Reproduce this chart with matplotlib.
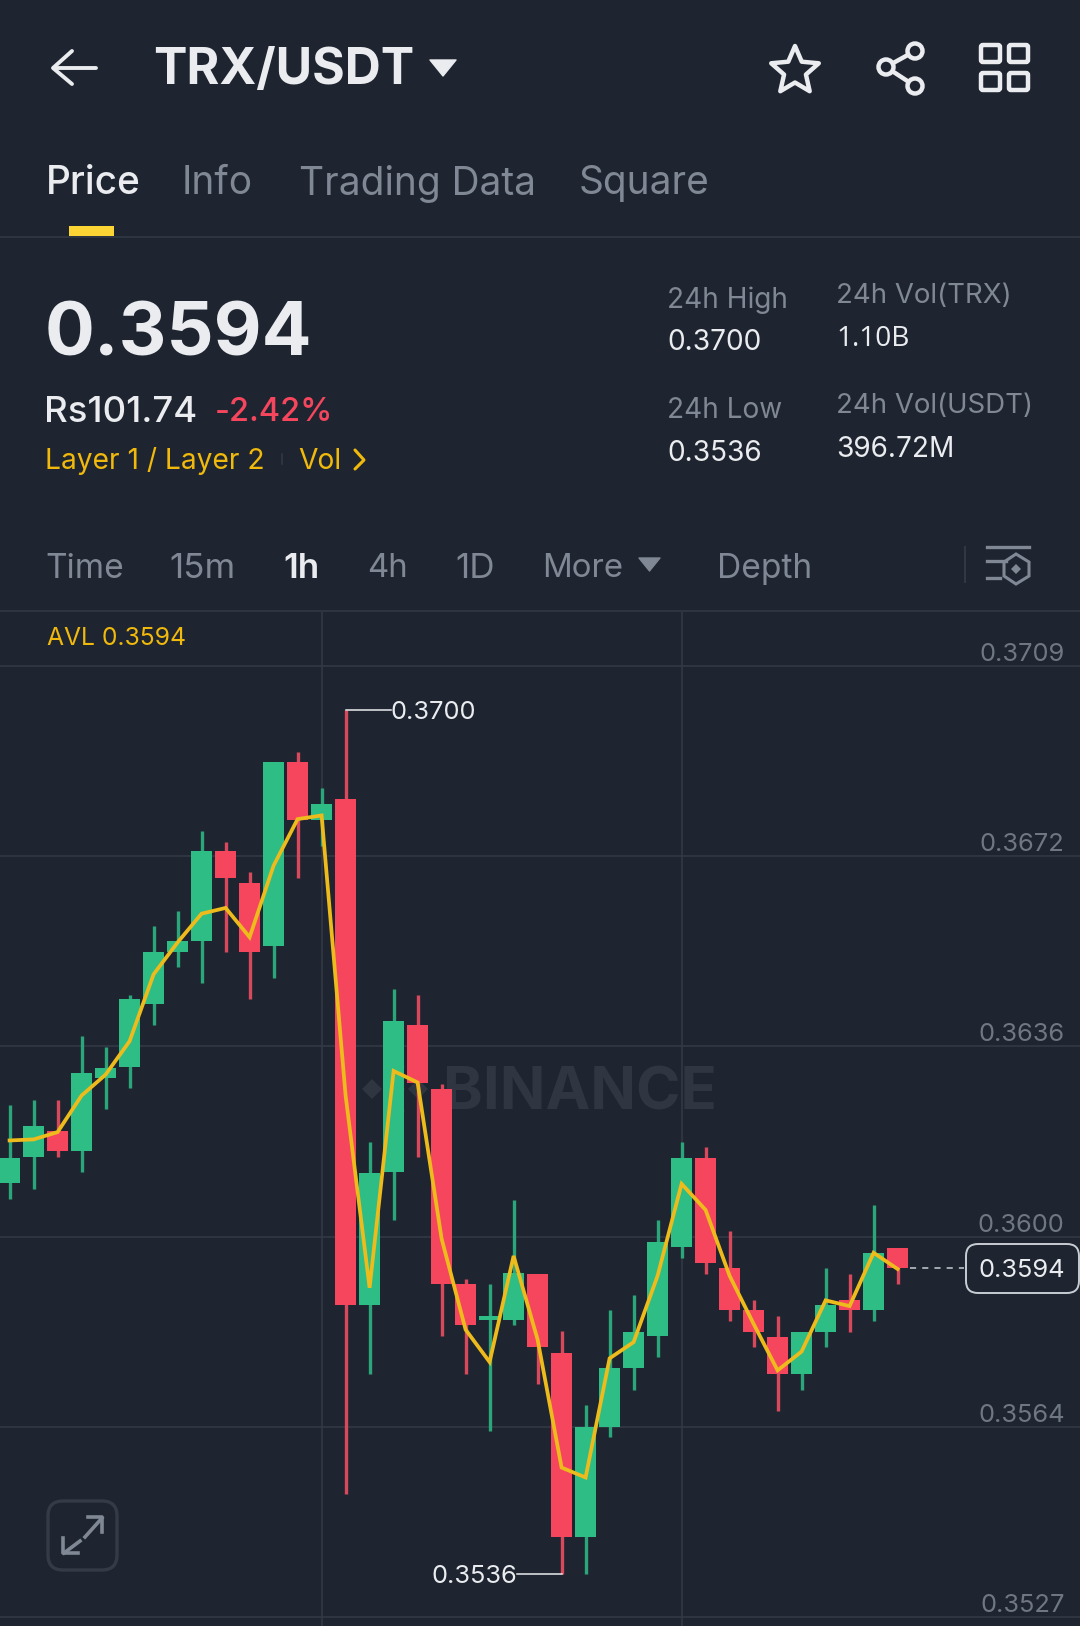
import matplotlib
matplotlib.use("Agg")
import matplotlib.pyplot as plt
import numpy as np
from matplotlib.patches import FancyBboxPatch, Polygon, Circle, Rectangle
from matplotlib.transforms import blended_transform_factory, IdentityTransform

# ---------- data ----------
opens = [.36100,.36150,.36200,.36161,.36301,.36322,.36443,.36543,.36564,.36735,.36674,.36554,.36906,.36796,.36835,.35867,.36121,.36402,.36281,.35907,.35838,.35838,.35927,.35776,.35424,.35634,.35746,.35807,.35978,.36149,.35938,.35857,.35806,.35736,.35816,.35877,.35857,.35977]
closes = [.36149,.36210,.36161,.36311,.36321,.36452,.36542,.36563,.36735,.36685,.36543,.36906,.36796,.36825,.35867,.36120,.36411,.36292,.35908,.35828,.35846,.35928,.35787,.35424,.35634,.35746,.35816,.35988,.36149,.35948,.35857,.35816,.35736,.35816,.35867,.35857,.35967,.35938]
highs = [.36250,.36260,.36260,.36381,.36360,.36461,.36593,.36622,.36775,.36754,.36695,.36906,.36926,.36856,.37005,.36179,.36472,.36461,.36290,.35917,.35907,.36068,.35927,.35817,.35675,.35857,.35887,.36029,.36180,.36170,.36008,.35877,.35847,.35816,.35938,.35927,.36058,.35977]
lows = [.36070,.36090,.36150,.36121,.36242,.36282,.36403,.36513,.36483,.36543,.36453,.36493,.36685,.36746,.35506,.35736,.36029,.36150,.35807,.35736,.35626,.35828,.35715,.35353,.35353,.35614,.35705,.35767,.35958,.35927,.35837,.35787,.35665,.35705,.35787,.35816,.35837,.35907]
avl = [.36182,.36184,.36198,.36268,.36308,.36372,.36500,.36561,.36616,.36627,.36571,.36708,.36797,.36804,.36268,.35900,.36315,.36293,.35994,.35820,.35758,.35961,.35801,.35556,.35537,.35765,.35796,.35923,.36099,.36049,.35923,.35831,.35742,.35778,.35876,.35865,.35967,.35936]
price_ticks = [.3709,.36726,.36362,.35998,.35634,.3527]
price_tick_labels = ["0.3709","0.3672","0.3636","0.3600","0.3564","0.3527"]
time_grid = [13, 28]
last_price = 0.35938
high_idx, low_idx = 14, 23
tabs = ["Price", "Info", "Trading Data", "Square"]

# ---------- style ----------
BG="#1e2530"; GRID="#323945"; GREEN="#2EBD85"; RED="#F6465D"; YEL="#F0B90B"
LINE="#EDBB1C"; GREY="#7f8894"; DIM="#6f7782"; WHITE="#EAECEF"
plt.rcParams['font.family'] = ['Inter', 'DejaVu Sans']
W,H=1080,1626
fig=plt.figure(figsize=(W/100,H/100),dpi=100,facecolor=BG)

ui=fig.add_axes([0,0,1,1],zorder=0); ui.set_xlim(0,W); ui.set_ylim(H,0); ui.axis('off')
def px(n): return n*0.72
def T(x,y,s,size,c,w='normal',ha='left',fam=None):
    ui.text(x,y,s,fontsize=px(size),color=c,fontweight=w,ha=ha,va='center_baseline',
            family=fam if fam else ['Inter','DejaVu Sans'])

# header
T(153,66,"TRX/USDT",50,WHITE,'bold')
ui.add_patch(Polygon([(430,60),(456,60),(443,76)],fc=WHITE,ec=WHITE,lw=1,joinstyle='round'))
ui.plot([54,96],[68,68],color=WHITE,lw=2.8,solid_capstyle='round')
ui.plot([72,53,72],[51,68,84],color=WHITE,lw=2.8,solid_capstyle='round',solid_joinstyle='round')
ang=np.deg2rad(-90+36*np.arange(10))
rad=np.where(np.arange(10)%2==0,25,11.5)
ui.add_patch(Polygon(np.c_[795+rad*np.cos(ang),71+rad*np.sin(ang)],fc='none',ec=WHITE,lw=3.2,joinstyle='round'))
for a,b in [((886,67),(915,51)),((886,67),(915,86))]:
    ui.plot(*zip(a,b),color=WHITE,lw=3.2)
for c in [(886,67),(915,51),(915,86)]:
    ui.add_patch(Circle(c,7.5,fc=BG,ec=WHITE,lw=3.2,zorder=3))
for x in (981,1009):
    for y in (45,73):
        ui.add_patch(FancyBboxPatch((x,y),19,17,boxstyle="round,pad=0,rounding_size=2",fc='none',ec=WHITE,lw=3.2))

# tabs
for s,x,c,w in zip(tabs,[46,182,299,579],[WHITE,GREY,GREY,GREY],['medium','normal','normal','normal']):
    T(x,180,s,38.8,c,w)
ui.add_patch(Rectangle((69,226),45,10,fc="#FCD535",ec='none'))
ui.plot([0,W],[237.5,237.5],color=GRID,lw=1.2)

# price block
T(45,328,"0.3594",74,WHITE,'bold')
T(44,409,"Rs101.74",36.5,WHITE,'medium')
T(215,409,"-2.42%",32.5,RED,'medium')
T(45,458,"Layer 1 / Layer 2",28.2,YEL)
ui.plot([282,282],[454,464],color=GRID,lw=1.2)
T(298,458,"Vol",28.2,YEL)
ui.plot([355,364,355],[450,460,469],color=YEL,lw=2.2,solid_joinstyle='round',solid_capstyle='round')
T(667,297,"24h High",28,GREY); T(667,340,"0.3700",28,WHITE)
T(667,407,"24h Low",28,GREY);  T(667,450,"0.3536",28,WHITE)
T(836,293,"24h Vol(TRX)",27.6,GREY); T(836,336,"1.10B",28,WHITE,fam=['Open Sans','DejaVu Sans'])
T(836,403,"24h Vol(USDT)",27.6,GREY); T(836,446,"396.72M",28,WHITE)

# time bar
for s,x,c,w,sz in [("Time",45,GREY,'normal',33.5),("15m",169,GREY,'normal',35),("1h",283,WHITE,'semibold',35),
                ("4h",367,GREY,'normal',33),("1D",455,GREY,'normal',35),("More",542,GREY,'normal',33),("Depth",717,GREY,'normal',33.5)]:
    T(x,565,s,sz,c,w)
ui.add_patch(Polygon([(639,558),(660,558),(649.5,571)],fc=GREY,ec=GREY,lw=1,joinstyle='round'))
ui.plot([965,965],[547,582],color=GRID,lw=1.4)
ui.plot([987,1029],[547,547],color=GREY,lw=2.4)
ui.plot([987,1006],[561,561],color=GREY,lw=2.4)
ui.plot([987,1000],[578,578],color=GREY,lw=2.4)
ui.add_patch(Polygon([(1016,554),(1029,562),(1029,576),(1016,584),(1004,576),(1004,562)],fc='none',ec=GREY,lw=2.2))
ui.add_patch(Polygon([(1016,564),(1021,569),(1016,574),(1011,569)],fc=GREY,ec='none'))
ui.plot([0,W],[611,611],color=GRID,lw=1.2)

T(47,636,"AVL 0.3594",24.7,YEL)

# watermark
WM="#2f3641"
for cx,cy,r in [(372,1089,10),(418,1089,10),(395,1067,10),(395,1111,10),(395,1089,10)]:
    ui.add_patch(Polygon([(cx-r,cy),(cx,cy-r),(cx+r,cy),(cx,cy+r)],fc=WM,ec='none'))
T(443,1088,"BINANCE",60,WM,'bold')

# expand button
ui.add_patch(FancyBboxPatch((48,1501),69,69,boxstyle="round,pad=0,rounding_size=15",fc='none',ec="#343b47",lw=2.4))
ui.plot([64,80],[1553,1541],color=GREY,lw=2.6); ui.plot([85,102],[1537,1518],color=GREY,lw=2.6)
ui.plot([63,63,78],[1538,1553,1553],color=GREY,lw=2.6); ui.plot([88,102,102],[1517,1517,1532],color=GREY,lw=2.6)

# ---------- chart ----------
top,bot=612,1626
ax=fig.add_axes([0,0,1,(bot-top)/H],zorder=1); ax.patch.set_alpha(0)
pp=(.3709-.3527)/951
ax.set_ylim(.3527-(bot-1617)*pp,.3709+(666-top)*pp)
ax.set_xlim(-9.6/24,(W-9.6)/24)
for s in ax.spines.values(): s.set_visible(False)
ax.yaxis.tick_right()
ax.set_yticks(price_ticks,price_tick_labels)
ax.set_xticks(time_grid,[])
ax.grid(True,color=GRID,lw=1.2,zorder=0); ax.set_axisbelow(True)
ax.tick_params(axis='x',length=0)
ax.tick_params(axis='y',length=0,pad=-11,labelsize=px(25.5),labelcolor=DIM)
for l in ax.get_yticklabels():
    l.set_ha('right'); l.set_va('bottom')

x=np.arange(len(opens)); o,c,h,l=map(np.array,(opens,closes,highs,lows))
cols=[GREEN if a>=b else RED for a,b in zip(c,o)]
wick=["#2ba57a" if a>=b else "#d9485c" for a,b in zip(c,o)]
ax.vlines(x,l,h,colors=wick,lw=2.4,zorder=2)
ax.bar(x,np.abs(c-o),bottom=np.minimum(o,c),width=.89,color=cols,zorder=3)
ax.plot(x,avl,color=LINE,lw=2.7,zorder=4,solid_joinstyle='miter')

ax.plot([len(opens)-.5,39.75],[last_price,last_price],color="#c8cdd4",lw=1.1,ls=(0,(4,4)),zorder=2)

ax.plot([high_idx,high_idx+1.88],[highs[high_idx]]*2,color=WHITE,lw=1.1,zorder=2)
ax.text(high_idx+1.88,highs[high_idx],"0.3700",fontsize=px(25.5),color=WHITE,ha='left',va='center_baseline')
ax.plot([low_idx,low_idx-1.85],[lows[low_idx]]*2,color=WHITE,lw=1.1,zorder=2)
ax.text(low_idx-1.85,lows[low_idx],"0.3536",fontsize=px(25.5),color=WHITE,ha='right',va='center_baseline')

ax.add_patch(FancyBboxPatch((966,H-1293),113,49,transform=None,boxstyle="round,pad=0,rounding_size=12",fc=BG,ec="#c8cdd4",lw=1.4,zorder=5))
ax.text(1065,last_price,"0.3594",transform=blended_transform_factory(IdentityTransform(),ax.transData),
        fontsize=px(25.5),color=WHITE,ha='right',va='center_baseline',zorder=6)

fig.savefig("out.png",dpi=100,facecolor=BG)
